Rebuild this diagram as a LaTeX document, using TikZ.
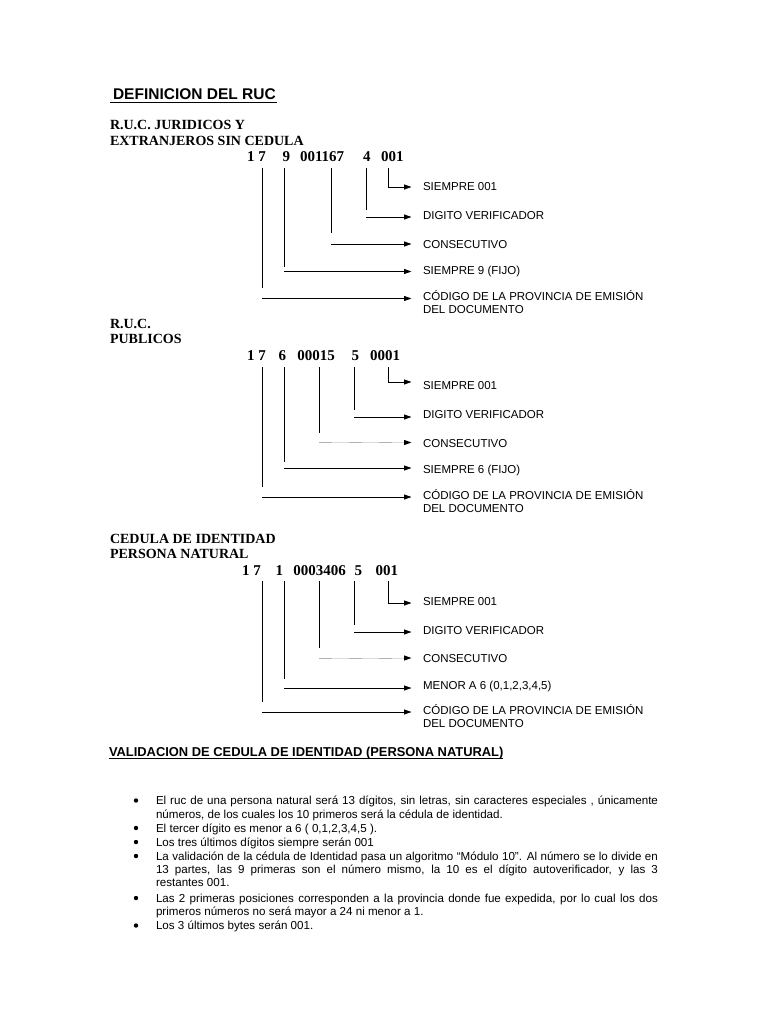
\documentclass[tikz,border=0pt]{standalone}
\usepackage{fontspec}
\setmainfont{Liberation Serif}
\setsansfont{Liberation Sans}
\usetikzlibrary{arrows.meta}
\begin{document}
\begin{tikzpicture}[x=1pt,y=-1pt,
  txt/.style={anchor=base west, inner sep=0pt, outer sep=0pt},
  ttl/.style={txt, font=\sffamily\bfseries\fontsize{15.5}{18}\selectfont},
  vttl/.style={txt, font=\sffamily\bfseries\fontsize{12.9}{15}\selectfont},
  head/.style={txt, font=\bfseries\fontsize{14}{16}\selectfont},
  dig/.style={txt, font=\bfseries\fontsize{15}{16}\selectfont},
  lbl/.style={txt, font=\sffamily\fontsize{11.5}{13}\selectfont},
  body/.style={txt, font=\sffamily\fontsize{11.6}{13}\selectfont},
  bul/.style={circle, fill=black, inner sep=0pt, minimum size=4.4pt},
  tick/.style={line width=0.8pt},
  arr/.style={line width=0.8pt, -{Triangle[length=7.5pt,width=5pt]}},
  garr/.style={line width=0.9pt, draw=gray!28, -{Triangle[length=7.5pt,width=5pt,color=black]}},
  gdash/.style={line width=0.9pt, draw=gray!60, dash pattern=on 13pt off 17pt},
  uline/.style={line width=1.1pt}
]
\useasboundingbox (0,0) rectangle (768,1024);
\fill[white] (0,0) rectangle (768,1024);
\coordinate (tx) at (411.5,0);

% ---------- title
\node[ttl] (title) at (113,99.5) {DEFINICION DEL RUC};
\coordinate (ul1a) at (110,102.8);
\coordinate (ul1b) at (277,102.8);
\draw[uline] (ul1a) -- (ul1b);

% ---------- block 1
\node[head] (h1a) at (110,129.5) {R.U.C. JURIDICOS Y};
\node[head] (h1b) at (110,146) {EXTRANJEROS SIN CEDULA};
\node[dig] (n1a) at (247,162) {1 7};
\node[dig] (n1b) at (282.5,162) {9};
\node[dig] (n1c) at (300,162) {001167};
\node[dig] (n1d) at (363,162) {4};
\node[dig] (n1e) at (381,162) {001};
\node[lbl] (s1e) at (423,190.5) {SIEMPRE 001};
\node[lbl] (s1d) at (423,219.5) {DIGITO VERIFICADOR};
\node[lbl] (s1c) at (423,248) {CONSECUTIVO};
\node[lbl] (s1b) at (423,274) {SIEMPRE 9 (FIJO)};
\node[lbl] (s1a) at (423,300.5) {CÓDIGO DE LA PROVINCIA DE EMISIÓN};
\node[lbl] (s1a2) at (423,313.5) {DEL DOCUMENTO};
\coordinate (t1a) at (262,168); \coordinate (b1a) at (262,288); \coordinate (k1a) at (262,298.5);
\coordinate (t1b) at (284,168); \coordinate (b1b) at (284,267); \coordinate (k1b) at (284,271.5);
\coordinate (t1c) at (331,168); \coordinate (b1c) at (331,233); \coordinate (k1c) at (331,244);
\coordinate (t1d) at (366,168); \coordinate (b1d) at (366,210); \coordinate (k1d) at (366,217);
\coordinate (t1e) at (388,168); \coordinate (k1e) at (388,187);
\draw[tick] (t1a) -- (b1a); \draw[arr] (k1a) -- (k1a -| tx);
\draw[tick] (t1b) -- (b1b); \draw[arr] (k1b) -- (k1b -| tx);
\draw[tick] (t1c) -- (b1c); \draw[arr] (k1c) -- (k1c -| tx);
\draw[tick] (t1d) -- (b1d); \draw[arr] (k1d) -- (k1d -| tx);
\draw[arr] (t1e) -- (k1e) -- (k1e -| tx);

% ---------- block 2
\node[head] (h2a) at (110,328.5) {R.U.C.};
\node[head] (h2b) at (110,343.5) {PUBLICOS};
\node[dig] (n2a) at (247,360) {1 7};
\node[dig] (n2b) at (278.5,360) {6};
\node[dig] (n2c) at (297.3,360) {00015};
\node[dig] (n2d) at (351.7,360) {5};
\node[dig] (n2e) at (370,360) {0001};
\node[lbl] (s2e) at (423,389) {SIEMPRE 001};
\node[lbl] (s2d) at (423,418.5) {DIGITO VERIFICADOR};
\node[lbl] (s2c) at (423,447) {CONSECUTIVO};
\node[lbl] (s2b) at (423,473) {SIEMPRE 6 (FIJO)};
\node[lbl] (s2a) at (423,499.5) {CÓDIGO DE LA PROVINCIA DE EMISIÓN};
\node[lbl] (s2a2) at (423,512.5) {DEL DOCUMENTO};
\coordinate (t2a) at (262,367); \coordinate (b2a) at (262,487); \coordinate (k2a) at (262,497);
\coordinate (t2b) at (284,367); \coordinate (b2b) at (284,462); \coordinate (k2b) at (284,468);
\coordinate (t2c) at (319,367); \coordinate (b2c) at (319,433); \coordinate (k2c) at (319,442.5);
\coordinate (t2d) at (354,367); \coordinate (b2d) at (354,410); \coordinate (k2d) at (354,417);
\coordinate (t2e) at (388,367); \coordinate (k2e) at (388,382);
\draw[tick] (t2a) -- (b2a); \draw[arr] (k2a) -- (k2a -| tx);
\draw[tick] (t2b) -- (b2b); \draw[arr] (k2b) -- (k2b -| tx);
\draw[tick] (t2c) -- (b2c); \draw[garr] (k2c) -- (k2c -| tx);
\draw[gdash] (k2c) -- ([xshift=-8pt]k2c -| tx);
\draw[tick] (t2d) -- (b2d); \draw[arr] (k2d) -- (k2d -| tx);
\draw[arr] (t2e) -- (k2e) -- (k2e -| tx);

% ---------- block 3
\node[head] (h3a) at (110,543.5) {CEDULA DE IDENTIDAD};
\node[head] (h3b) at (110,558.5) {PERSONA NATURAL};
\node[dig] (n3a) at (242,575) {1 7};
\node[dig] (n3b) at (275.7,575) {1};
\node[dig] (n3c) at (293.3,575) {0003406};
\node[dig] (n3d) at (354.5,575) {5};
\node[dig] (n3e) at (375.5,575) {001};
\node[lbl] (s3e) at (423,605) {SIEMPRE 001};
\node[lbl] (s3d) at (423,634) {DIGITO VERIFICADOR};
\node[lbl] (s3c) at (423,662.5) {CONSECUTIVO};
\node[lbl] (s3b) at (423,689.5) {MENOR A 6 (0,1,2,3,4,5)};
\node[lbl] (s3a) at (423,714) {CÓDIGO DE LA PROVINCIA DE EMISIÓN};
\node[lbl] (s3a2) at (423,727) {DEL DOCUMENTO};
\coordinate (t3a) at (262,581); \coordinate (b3a) at (262,702); \coordinate (k3a) at (262,712);
\coordinate (t3b) at (284,581); \coordinate (b3b) at (284,679); \coordinate (k3b) at (284,688);
\coordinate (t3c) at (319,581); \coordinate (b3c) at (319,648); \coordinate (k3c) at (319,658);
\coordinate (t3d) at (354,581); \coordinate (b3d) at (354,625); \coordinate (k3d) at (354,632);
\coordinate (t3e) at (388,581); \coordinate (k3e) at (388,603);
\draw[tick] (t3a) -- (b3a); \draw[arr] (k3a) -- (k3a -| tx);
\draw[tick] (t3b) -- (b3b); \draw[arr] (k3b) -- (k3b -| tx);
\draw[tick] (t3c) -- (b3c); \draw[garr] (k3c) -- (k3c -| tx);
\draw[gdash] (k3c) -- ([xshift=-8pt]k3c -| tx);
\draw[tick] (t3d) -- (b3d); \draw[arr] (k3d) -- (k3d -| tx);
\draw[arr] (t3e) -- (k3e) -- (k3e -| tx);

% ---------- validation
\node[vttl] (vh) at (109,756) {VALIDACION DE CEDULA DE IDENTIDAD (PERSONA NATURAL)};
\coordinate (ul2a) at (109,758.8);
\coordinate (ul2b) at (vh.east |- ul2a);
\draw[line width=1pt] (ul2a) -- (ul2b);

\node[bul] (b1) at (136,800.5) {};
\node[body] (l1a) at (156,804.5) {\makebox[502pt][s]{El ruc de una persona natural será 13 dígitos, sin letras, sin caracteres especiales , únicamente}};
\node[body] (l1b) at (156,818) {números, de los cuales los 10 primeros será la cédula de identidad.};
\node[bul] (b2) at (136,828) {};
\node[body] (l2a) at (156,832) {El tercer dígito es menor a 6 ( 0,1,2,3,4,5 ).};
\node[bul] (b3) at (136,842) {};
\node[body] (l3a) at (156,846) {Los tres últimos dígitos siempre serán 001};
\node[bul] (b4) at (136,856) {};
\node[body] (l4a) at (156,860) {\makebox[502pt][s]{La validación de la cédula de Identidad pasa un algoritmo “Módulo 10”. Al número se lo divide en}};
\node[body] (l4b) at (156,873) {\makebox[502pt][s]{13 partes, las 9 primeras son el número mismo, la 10 es el dígito autoverificador, y las 3}};
\node[body] (l4c) at (156,886) {restantes 001.};
\node[bul] (b5) at (136,898) {};
\node[body] (l5a) at (156,902) {\makebox[502pt][s]{Las 2 primeras posiciones corresponden a la provincia donde fue expedida, por lo cual los dos}};
\node[body] (l5b) at (156,915) {primeros números no será mayor a 24 ni menor a 1.};
\node[bul] (b6) at (136,925.5) {};
\node[body] (l6a) at (156,929.5) {Los 3 últimos bytes serán 001.};
\end{tikzpicture}
\end{document}
